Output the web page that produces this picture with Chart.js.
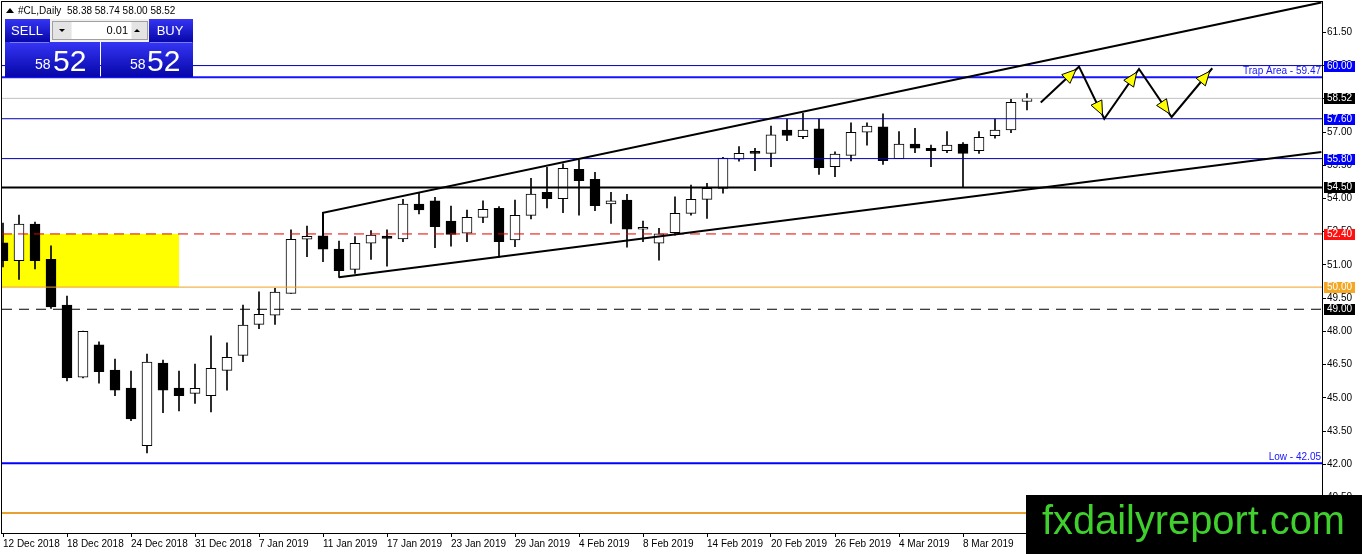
<!DOCTYPE html>
<html>
<head>
<meta charset="utf-8">
<script src="https://cdn.jsdelivr.net/npm/chart.js@4.4.1/dist/chart.umd.min.js"></script>
<style>
  html, body { margin: 0; padding: 0; background: #fff; }
  #wrap { width: 1362px; height: 554px; }
</style>
</head>
<body>
<div id="wrap"><canvas id="myChart" width="1362" height="554"></canvas></div>
<script>
// daily bars, #CL
const dates = [
  '12 Dec 2018','13 Dec 2018','14 Dec 2018','17 Dec 2018','18 Dec 2018','19 Dec 2018','20 Dec 2018','21 Dec 2018',
  '24 Dec 2018','26 Dec 2018','27 Dec 2018','28 Dec 2018','31 Dec 2018','2 Jan 2019','3 Jan 2019','4 Jan 2019',
  '7 Jan 2019','8 Jan 2019','9 Jan 2019','10 Jan 2019','11 Jan 2019','14 Jan 2019','15 Jan 2019','16 Jan 2019',
  '17 Jan 2019','18 Jan 2019','21 Jan 2019','22 Jan 2019','23 Jan 2019','24 Jan 2019','25 Jan 2019','28 Jan 2019',
  '29 Jan 2019','30 Jan 2019','31 Jan 2019','1 Feb 2019','4 Feb 2019','5 Feb 2019','6 Feb 2019','7 Feb 2019',
  '8 Feb 2019','11 Feb 2019','12 Feb 2019','13 Feb 2019','14 Feb 2019','15 Feb 2019','18 Feb 2019','19 Feb 2019',
  '20 Feb 2019','21 Feb 2019','22 Feb 2019','25 Feb 2019','26 Feb 2019','27 Feb 2019','28 Feb 2019','1 Mar 2019',
  '4 Mar 2019','5 Mar 2019','6 Mar 2019','7 Mar 2019','8 Mar 2019','11 Mar 2019','12 Mar 2019','13 Mar 2019',
  '14 Mar 2019'
];
const opens = [
  52.00, 51.19, 52.85, 51.25, 49.19, 45.93, 47.39, 46.26, 45.44, 42.84, 46.57, 45.44, 45.20, 45.10, 46.24, 46.92,
  48.32, 48.73, 49.72, 52.16, 52.31, 51.72, 50.80, 51.98, 52.30, 52.17, 53.75, 53.89, 52.98, 52.43, 53.15, 53.56,
  52.13, 53.24, 54.28, 53.99, 55.32, 54.87, 53.75, 53.93, 52.61, 51.98, 52.46, 53.33, 53.96, 54.46, 55.77, 56.11,
  56.04, 57.09, 56.79, 57.14, 55.44, 55.95, 56.99, 57.24, 55.80, 56.46, 56.27, 56.16, 56.46, 56.16, 56.84, 57.09,
  58.38
];
const highs = [
  52.89, 53.25, 52.93, 51.86, 49.60, 48.02, 47.53, 46.75, 46.21, 46.98, 46.71, 46.21, 46.53, 47.80, 47.48, 49.19,
  49.79, 49.95, 52.58, 52.76, 52.58, 52.08, 52.28, 52.55, 52.58, 53.96, 54.23, 54.05, 53.66, 53.48, 53.90, 53.63,
  53.93, 54.91, 55.41, 55.56, 55.74, 55.18, 54.28, 54.19, 52.98, 52.65, 54.08, 54.60, 54.69, 55.86, 56.34, 56.27,
  57.27, 57.58, 57.85, 57.58, 56.11, 57.42, 57.42, 57.82, 57.02, 57.17, 56.41, 57.02, 56.52, 57.02, 57.58, 58.48,
  58.74
];
const lows = [
  50.91, 50.35, 50.82, 49.04, 45.77, 45.90, 45.66, 45.10, 43.97, 42.52, 44.33, 44.41, 44.75, 44.37, 45.35, 46.63,
  48.12, 48.32, 49.72, 51.37, 51.15, 50.44, 50.62, 51.25, 50.95, 52.05, 53.30, 51.78, 51.85, 52.05, 52.91, 51.35,
  51.82, 53.08, 53.58, 53.36, 53.25, 53.45, 52.88, 51.80, 52.05, 51.22, 52.35, 53.25, 53.10, 54.24, 55.69, 55.26,
  55.44, 56.61, 56.70, 55.09, 54.98, 55.70, 56.41, 55.54, 55.80, 56.07, 55.44, 56.07, 54.53, 56.04, 56.72, 56.97,
  58.00
];
const closes = [
  51.19, 52.84, 51.19, 49.11, 45.91, 48.00, 46.18, 45.35, 44.05, 46.62, 45.35, 45.10, 45.43, 46.33, 46.83, 48.29,
  48.77, 49.77, 52.16, 52.29, 51.71, 50.74, 51.98, 52.35, 52.20, 53.75, 53.48, 52.73, 52.38, 53.15, 53.51, 52.05,
  53.24, 54.20, 53.99, 55.36, 54.80, 53.68, 53.89, 52.61, 52.70, 52.40, 53.33, 53.96, 54.46, 55.82, 56.04, 56.04,
  56.87, 56.85, 57.09, 55.39, 56.00, 56.99, 57.27, 55.71, 56.46, 56.27, 56.16, 56.41, 56.04, 56.76, 57.09, 58.34,
  58.52
];

const priceTicks = [40.5, 42, 43.5, 45, 46.5, 48, 49.5, 51, 52.5, 54, 55.5, 57, 58.5, 60, 61.5];

// horizontal levels drawn on the chart
const levels = [60.00, 59.47, 58.52, 57.60, 55.80, 54.50, 52.40, 50.00, 49.00, 42.05, 39.80];
const levelNotes = ['', 'Trap Area - ', '', '', '', '', '', '', '', 'Low - ', ''];

// channel (bar index, price)
const channelTop = [[20, 52.31], [20, 53.35], [82.4, 62.85]];
const channelBottom = [[21, 50.44], [82.4, 56.10]];

// projected path after the last bar
const zigzag = [[64.86, 58.33], [67.25, 59.95], [68.83, 57.60], [71.0, 59.85], [73.04, 57.68], [75.58, 59.88]];

// yellow box: bar index from/to, price low/high
const zoneBars = [-0.0625, 11];
const zonePrices = [50.00, 52.40];

const X_MIN = -0.0625, X_MAX = 82.4375;
const FONT = 'Liberation Sans';

const levelStyle = [
  { color: '#0000b4', width: 1, box: '#0000ff' },
  { color: '#1414ff', width: 2, note: '#1414ff' },
  { color: '#c0c0c0', width: 1, box: '#000000' },
  { color: '#0000b4', width: 1, box: '#0000ff' },
  { color: '#0000b4', width: 1, box: '#0000ff' },
  { color: '#000000', width: 2, box: '#000000' },
  { color: '#e00000', width: 1, dash: [10, 6], box: '#ff1010' },
  { color: '#f0a020', width: 1, box: '#f5a623' },
  { color: '#000000', width: 1, dash: [10, 7], box: '#000000' },
  { color: '#0000ff', width: 2, note: '#1414ff' },
  { color: '#e8a030', width: 2 }
];

const idx = dates.map((d, i) => i);
const datasets = [];

levels.forEach((v, i) => {
  const s = levelStyle[i];
  datasets.push({
    type: 'line', data: [{ x: X_MIN, y: v }, { x: X_MAX, y: v }],
    borderColor: s.color, borderWidth: s.width, borderDash: s.dash || [],
    pointRadius: 0, fill: false, order: 1
  });
});

[channelTop, channelBottom, zigzag].forEach(pts => {
  datasets.push({
    type: 'line', data: pts.map(p => ({ x: p[0], y: p[1] })),
    borderColor: '#000', borderWidth: 2, pointRadius: 0, fill: false, tension: 0, order: 0
  });
});

// candle bodies
datasets.push({
  type: 'bar',
  data: idx.map(i => ({ x: i, y: [opens[i], closes[i]] })),
  backgroundColor: idx.map(i => closes[i] < opens[i] ? '#000' : '#fff'),
  borderColor: '#000', borderWidth: 1, borderSkipped: false,
  barThickness: 10, grouped: false, minBarLength: 2, order: 2
});
// wicks
datasets.push({
  type: 'bar',
  data: idx.map(i => ({ x: i, y: [lows[i], highs[i]] })),
  backgroundColor: '#000', borderWidth: 0,
  barThickness: 1, grouped: false, order: 3
});

const zonePlugin = {
  id: 'zone',
  beforeDatasetsDraw(chart) {
    const { ctx, scales: { x, y } } = chart;
    const x0 = x.getPixelForValue(zoneBars[0]), x1 = x.getPixelForValue(zoneBars[1]);
    const y0 = y.getPixelForValue(zonePrices[1]), y1 = y.getPixelForValue(zonePrices[0]);
    ctx.save();
    ctx.fillStyle = '#ffff00';
    ctx.fillRect(x0, y0, x1 - x0, y1 - y0);
    ctx.restore();
  }
};

const decorPlugin = {
  id: 'decor',
  afterDatasetsDraw(chart) {
    const { ctx, scales: { x, y } } = chart;
    const pts = zigzag.map(p => [x.getPixelForValue(p[0]), y.getPixelForValue(p[1])]);
    ctx.save();
    ctx.fillStyle = '#ffff00';
    ctx.strokeStyle = '#000';
    ctx.lineWidth = 1;
    for (let i = 1; i < pts.length; i++) {
      const [x0, y0] = pts[i - 1], [x1, y1] = pts[i];
      const a = Math.atan2(y1 - y0, x1 - x0);
      const tx = x1 - Math.cos(a) * 4, ty = y1 - Math.sin(a) * 4;
      const bx = tx - Math.cos(a) * 14, by = ty - Math.sin(a) * 14;
      ctx.beginPath();
      ctx.moveTo(tx, ty);
      ctx.lineTo(bx - Math.sin(a) * 6, by + Math.cos(a) * 6);
      ctx.lineTo(bx + Math.sin(a) * 6, by - Math.cos(a) * 6);
      ctx.closePath();
      ctx.fill();
      ctx.stroke();
    }
    ctx.restore();
  },
  afterDraw(chart) {
    const { ctx, chartArea: ca, scales: { y } } = chart;
    ctx.save();
    // frame
    ctx.strokeStyle = '#000';
    ctx.lineWidth = 1;
    ctx.strokeRect(ca.left - 0.5, ca.top - 0.5, ca.right - ca.left + 1, ca.bottom - ca.top + 1);

    // level price boxes and notes
    ctx.font = '10px ' + FONT;
    ctx.textBaseline = 'middle';
    levels.forEach((v, i) => {
      const s = levelStyle[i];
      const py = Math.round(y.getPixelForValue(v));
      if (s.box) {
        ctx.fillStyle = s.box;
        ctx.fillRect(ca.right + 2, py - 5, 31, 11);
        ctx.fillStyle = '#fff';
        ctx.textAlign = 'left';
        ctx.fillText(v.toFixed(2), ca.right + 5, py + 0.5);
      }
      if (s.note) {
        ctx.fillStyle = s.note;
        ctx.textAlign = 'right';
        ctx.textBaseline = 'alphabetic';
        ctx.fillText(levelNotes[i] + v.toFixed(2), ca.right - 1, py - 3);
        ctx.textBaseline = 'middle';
      }
    });

    // header
    ctx.fillStyle = '#000';
    ctx.beginPath();
    ctx.moveTo(6, 13); ctx.lineTo(10, 8); ctx.lineTo(14, 13); ctx.closePath(); ctx.fill();
    ctx.textAlign = 'left';
    ctx.fillText('#CL,Daily', 18, 11);
    ctx.fillText('58.38 58.74 58.00 58.52', 67, 11);

    // one-click trading panel
    const blue = (x0, y0, w, h) => {
      const g = ctx.createLinearGradient(0, y0, 0, y0 + h);
      g.addColorStop(0, '#3535f5');
      g.addColorStop(1, '#0606a8');
      ctx.fillStyle = g;
      ctx.fillRect(x0, y0, w, h);
    };
    ctx.fillStyle = '#f0f0f0';
    ctx.fillRect(49, 19, 101, 23);
    blue(5, 19, 45, 23);
    blue(149, 19, 44, 23);
    blue(5, 42, 95, 35);
    blue(101, 42, 92, 35);
    ctx.fillStyle = '#e4e4e4';
    ctx.fillRect(52, 21, 19, 19);
    ctx.fillRect(132, 21, 16, 19);
    ctx.fillStyle = '#fff';
    ctx.fillRect(72, 21, 59, 19);
    ctx.strokeStyle = '#a0a0a0';
    ctx.strokeRect(52.5, 21.5, 95, 18);
    ctx.fillStyle = '#000';
    ctx.beginPath(); ctx.moveTo(59, 29); ctx.lineTo(65, 29); ctx.lineTo(62, 32); ctx.closePath(); ctx.fill();
    ctx.beginPath(); ctx.moveTo(134, 32); ctx.lineTo(140, 32); ctx.lineTo(137, 29); ctx.closePath(); ctx.fill();
    ctx.font = '11px ' + FONT;
    ctx.textAlign = 'right';
    ctx.fillText('0.01', 128, 31);
    ctx.strokeStyle = '#7a7aff';
    ctx.beginPath(); ctx.moveTo(10, 42.5); ctx.lineTo(49, 42.5); ctx.moveTo(150, 42.5); ctx.lineTo(192, 42.5); ctx.stroke();
    ctx.fillStyle = '#fff';
    ctx.textAlign = 'center';
    ctx.font = '13px ' + FONT;
    ctx.fillText('SELL', 27, 31);
    ctx.fillText('BUY', 170, 31);
    ctx.textAlign = 'left';
    ctx.textBaseline = 'alphabetic';
    ctx.font = '14px ' + FONT;
    ctx.fillText('58', 35, 69);
    ctx.fillText('58', 130, 69);
    ctx.font = '30px ' + FONT;
    ctx.fillText('52', 53, 71);
    ctx.fillText('52', 147, 71);

    // watermark
    ctx.fillStyle = '#000';
    ctx.fillRect(1026, 495, 336, 59);
    ctx.font = '40px ' + FONT;
    const txt = 'fxdailyreport.com';
    const w = ctx.measureText(txt).width;
    ctx.font = (40 * 303 / w).toFixed(1) + 'px ' + FONT;
    ctx.fillStyle = '#3fd02e';
    ctx.fillText(txt, 1042, 534);
    ctx.restore();
  }
};

const ctx = document.getElementById('myChart').getContext('2d');
const conf = {
  type: 'bar',
  data: { datasets: datasets },
  options: {
    responsive: false,
    animation: false,
    devicePixelRatio: 1,
    events: [],
    layout: { padding: { left: 2, top: 2, right: 0, bottom: 0 } },
    plugins: { legend: false, tooltip: { enabled: false } },
    scales: {
      x: {
        type: 'linear', min: X_MIN, max: X_MAX, offset: false,
        afterBuildTicks: s => { s.ticks = idx.filter(i => i % 4 === 0).map(v => ({ value: v })); },
        afterFit: s => { s.height = 21; s.paddingLeft = 0; s.paddingRight = 0; },
        ticks: {
          autoSkip: false, maxRotation: 0, align: 'start', padding: 1, color: '#000',
          font: { family: FONT, size: 10 },
          callback: v => dates[v]
        },
        grid: { drawOnChartArea: false, tickLength: 4, color: '#000', offset: false },
        border: { color: '#000', width: 1 }
      },
      y: {
        type: 'linear', position: 'right', min: 38.9, max: 62.87,
        afterBuildTicks: s => { s.ticks = priceTicks.map(v => ({ value: v })); },
        afterFit: s => { s.width = 40; s.paddingTop = 0; s.paddingBottom = 0; },
        ticks: {
          padding: 1, color: '#000', font: { family: FONT, size: 10 },
          callback: v => Number(v).toFixed(2)
        },
        grid: { drawOnChartArea: false, tickLength: 4, color: '#000' },
        border: { color: '#000', width: 1 }
      }
    }
  },
  plugins: [zonePlugin, decorPlugin]
};
const myChart = new Chart(ctx, conf);
</script>
</body>
</html>
